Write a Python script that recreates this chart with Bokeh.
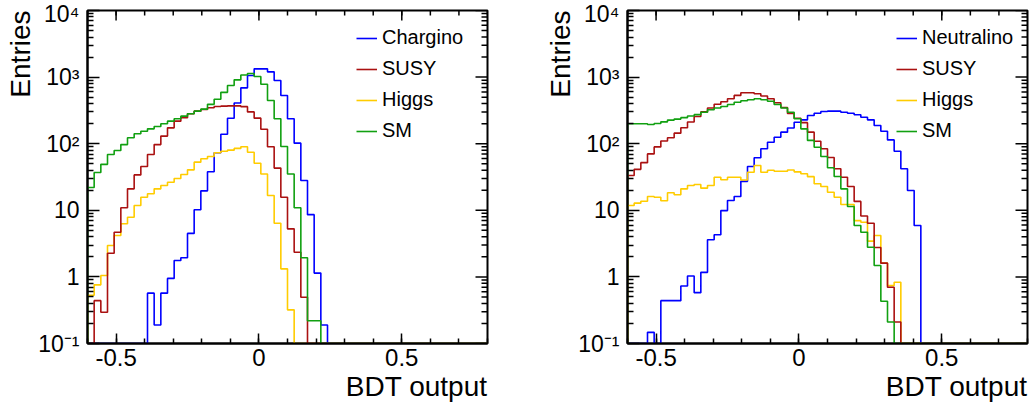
import numpy as np
from bokeh.plotting import figure
from bokeh.layouts import row
from bokeh.models import (Range1d, FixedTicker, Legend, LegendItem, Title)
from bokeh.embed import file_html
from bokeh.resources import INLINE

# ---------------- data ----------------
bin_lo, bin_hi, n_bins = -0.6, 0.8, 60

left_chargino = [0, 0, 0, 0, 0, 0, 0, 0, 0,
                 0.57, 0.19, 0.57, 0.95, 1.76, 1.94, 4.5, 10.2, 19.6, 38, 73,
                 139, 241, 408, 690, 1057, 1331, 1331, 1200, 889, 529,
                 237, 102, 28, 8.6, 1.14, 0.19] + [0] * 24
left_susy = [0, 0.44, 0.295, 2.27, 4.69, 10.9, 21, 34, 45.5, 69,
             97, 130, 173, 218, 245, 281, 308, 326, 346, 362,
             366, 370, 370, 360, 300, 242, 165, 90, 43, 15.7,
             5.27, 2.35, 0.495] + [0] * 27
left_higgs = [0.53, 0.76, 1.05, 2.96, 4.19, 6.27, 7.88, 11.8, 15.7, 17.7,
              21, 23.6, 26.4, 30, 34.5, 40.5, 52.8, 59.3, 64.3, 73,
              77, 80, 85, 90, 74.5, 51, 35, 16.7, 6.4, 1.32,
              0.32] + [0] * 29
left_sm = [22, 37, 49, 69, 79, 97, 123, 141, 154, 167,
           181, 199, 218, 237, 259, 281, 308, 330, 390, 465,
           590, 748, 910, 1076, 1133, 1021, 782, 445, 237, 91,
           35, 10.9, 1.94, 0.22, 0.22] + [0] * 25

right_neutralino = [0, 0, 0, 0.147, 0, 0.44, 0.44, 0.44, 0.73, 1.03,
                    0.58, 1.17, 3.62, 4.29, 9.9, 14, 16.1, 27.2, 45.5, 61.4,
                    83.8, 105, 125, 149, 172, 210, 228, 265, 287, 304,
                    308, 308, 297, 287, 272, 250, 228, 188, 154, 114,
                    77, 42, 19.8, 5.9] + [0] * 16
right_susy = [33.3, 41.2, 51.9, 70.3, 89.6, 110, 123, 144, 174, 212,
              256, 300, 343, 392, 427, 472, 531, 583, 583, 561,
              520, 472, 412, 349, 284, 241, 207, 149, 109, 83.8,
              62, 42, 31.4, 22.8, 13.6, 8.2, 6.4, 2.76, 1.61, 0.70,
              0.21] + [0] * 19
right_higgs = [11.8, 12.8, 13.7, 16.1, 15.7, 13.9, 18.3, 17.1, 21, 23.6,
               24.4, 21.5, 23.6, 31.4, 28.7, 31.4, 31.4, 28.5, 37.3, 47,
               37.3, 40, 38.6, 38.6, 40.3, 37.8, 35.3, 32, 25.1, 22.8,
               18.7, 15.7, 12.2, 12.2, 7.0, 6.6, 3.44, 4.19, 1.61, 0.74,
               0.83] + [0] * 19
right_sm = [199, 199, 199, 194, 201, 213, 226, 234, 246, 261,
            273, 297, 323, 343, 362, 388, 420, 441, 456, 472,
            456, 435, 388, 343, 297, 237, 167, 112, 88.5, 64.3,
            43.5, 32.1, 21, 11.4, 5.9, 4.69, 2.79, 1.48, 0.43, 0.21] + [0] * 20

left_labels = ["Chargino", "SUSY", "Higgs", "SM"]
right_labels = ["Neutralino", "SUSY", "Higgs", "SM"]
series_colors = ["#0000ff", "#aa1111", "#ffcc00", "#11a011"]

x_tick_values = [-0.5, 0, 0.5]
x_tick_labels = ["-0.5", "0", "0.5"]
y_tick_values = [0.1, 1, 10, 100, 1000, 10000]
y_tick_labels = ["10\u207b\u00b9", "1", "10", "10\u00b2", "10\u00b3", "10\u2074"]
x_title = "BDT output"
y_title = "Entries"

FONT = "Liberation Sans"
Y_MIN, Y_MAX = 0.1, 1e4


def step_path(values):
    edges = np.linspace(bin_lo, bin_hi, n_bins + 1)
    v = np.array(values, dtype=float)
    v = np.where(v > 0, v, Y_MIN)
    xs = np.concatenate([[edges[0]], np.repeat(edges, 2)[1:-1], [edges[-1]]])
    ys = np.concatenate([[Y_MIN], np.repeat(v, 2), [Y_MIN]])
    return xs, ys


def make_panel(series, labels, left_border, right_border):
    p = figure(frame_width=400, frame_height=333,
               min_border_left=left_border, min_border_right=right_border,
               min_border_top=10, min_border_bottom=68,
               x_range=Range1d(bin_lo, bin_hi), y_range=Range1d(Y_MIN, Y_MAX),
               y_axis_type="log",
               toolbar_location=None, output_backend="svg")
    p.xgrid.visible = False
    p.ygrid.visible = False
    p.outline_line_color = "black"
    p.outline_line_width = 2
    p.background_fill_color = "white"
    p.border_fill_color = "white"

    xminor = [round(-0.6 + 0.1 * i, 2) for i in range(15)]
    yminor = [m * 10.0 ** e for e in range(-1, 4) for m in range(2, 10)]

    xa = p.xaxis[0]
    xa.ticker = FixedTicker(ticks=x_tick_values, minor_ticks=xminor)
    xa.major_label_overrides = {v: t for v, t in zip(x_tick_values, x_tick_labels)}
    xa.major_label_text_font = FONT
    xa.major_label_text_font_size = "24px"
    xa.major_label_text_color = "black"
    xa.major_label_standoff = 5
    xa.major_tick_in = 10
    xa.major_tick_out = 0
    xa.minor_tick_in = 5
    xa.minor_tick_out = 0
    xa.axis_line_width = 2
    xa.major_tick_line_width = 1.5
    xa.minor_tick_line_width = 1.5

    ya = p.yaxis[0]
    ya.ticker = FixedTicker(ticks=y_tick_values, minor_ticks=yminor)
    ya.major_label_overrides = {v: t for v, t in zip(y_tick_values, y_tick_labels)}
    ya.major_label_text_font = FONT
    ya.major_label_text_font_size = "23px"
    ya.major_label_text_color = "black"
    ya.major_label_standoff = 8
    ya.major_tick_in = 12
    ya.major_tick_out = 0
    ya.minor_tick_in = 6
    ya.minor_tick_out = 0
    ya.axis_line_width = 2
    ya.major_tick_line_width = 1.5
    ya.minor_tick_line_width = 1.5

    p.add_layout(Title(text=x_title, align="right", text_font=FONT,
                       text_font_size="28px", text_font_style="normal",
                       text_color="black", standoff=0, offset=0), "below")
    p.add_layout(Title(text=y_title, align="right", text_font=FONT,
                       text_font_size="28px", text_font_style="normal",
                       text_color="black", standoff=0, offset=0), "left")

    # top ticks
    tick_col = "black"
    p.ray(x=x_tick_values, y=[Y_MAX] * len(x_tick_values), length=10,
          length_units="screen", angle=-np.pi / 2, line_color=tick_col, line_width=1.5)
    p.ray(x=xminor, y=[Y_MAX] * len(xminor), length=5,
          length_units="screen", angle=-np.pi / 2, line_color=tick_col, line_width=1.5)
    # right ticks
    p.ray(x=[bin_hi] * len(y_tick_values), y=y_tick_values, length=12,
          length_units="screen", angle=np.pi, line_color=tick_col, line_width=1.5)
    p.ray(x=[bin_hi] * len(yminor), y=yminor, length=6,
          length_units="screen", angle=np.pi, line_color=tick_col, line_width=1.5)

    renderers = []
    for vals, col in zip(series, series_colors):
        xs, ys = step_path(vals)
        renderers.append(p.line(xs, ys, line_color=col, line_width=1.6))
    # drawing order: blue, yellow, red, green on top
    order = [0, 2, 1, 3]
    for i in order:
        p.renderers.remove(renderers[i])
        p.renderers.append(renderers[i])

    legend = Legend(items=[LegendItem(label=l, renderers=[r]) for l, r in zip(labels, renderers)],
                    location=(269, 201), orientation="vertical",
                    glyph_width=21, glyph_height=20, label_height=20,
                    label_standoff=5, spacing=8, padding=0, margin=0,
                    border_line_color=None, background_fill_alpha=0,
                    label_text_font=FONT, label_text_font_size="20px",
                    label_text_color="black")
    p.add_layout(legend)
    return p


p_left = make_panel([left_chargino, left_susy, left_higgs, left_sm], left_labels, 87, 29)
p_right = make_panel([right_neutralino, right_susy, right_higgs, right_sm], right_labels, 111, 5)

layout = row(p_left, p_right)
open("out.html", "w").write(file_html(layout, INLINE))
